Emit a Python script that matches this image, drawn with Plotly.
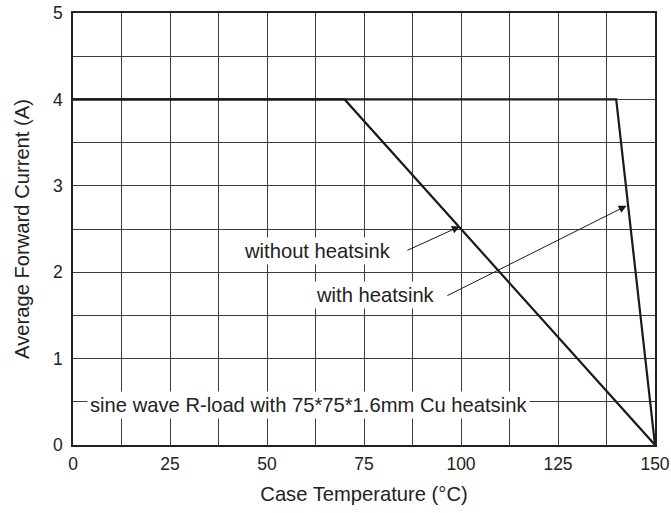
import plotly.graph_objects as go

# Data
temp_without = [0, 70, 150]
curr_without = [4, 4, 0]
temp_with = [0, 140, 150]
curr_with = [4, 4, 0]

x_ticks = [0, 25, 50, 75, 100, 125, 150]
y_ticks = [0, 1, 2, 3, 4, 5]

FONT = "Liberation Sans, Arial, Helvetica, sans-serif"
GRID = "#3c3c3c"
INK = "#1a1a1a"
TXT = "#222"
ANN = 20.2

fig = go.Figure()
fig.add_trace(go.Scatter(x=temp_without, y=curr_without, mode="lines",
                         line=dict(color=INK, width=2.2), name="without heatsink",
                         showlegend=False))
fig.add_trace(go.Scatter(x=temp_with, y=curr_with, mode="lines",
                         line=dict(color=INK, width=2.2), name="with heatsink",
                         showlegend=False))

annotations = [
    # text labels
    dict(x=62.9, y=2.25, text="without heatsink", showarrow=False,
         bgcolor="white", borderpad=2, font=dict(size=ANN, color=TXT)),
    dict(x=78.0, y=1.74, text="with heatsink", showarrow=False,
         bgcolor="white", borderpad=2, font=dict(size=ANN, color=TXT)),
    dict(x=60.7, y=0.46, text="sine wave R-load with 75*75*1.6mm Cu heatsink",
         showarrow=False, bgcolor="white", borderpad=2,
         font=dict(size=ANN, color=TXT)),
    # arrows
    dict(x=99.7, y=2.53, ax=85.8, ay=2.245, axref="x", ayref="y", text="",
         showarrow=True, arrowhead=2, arrowsize=1.6, arrowwidth=1, arrowcolor=INK),
    dict(x=142.7, y=2.77, ax=96.1, ay=1.72, axref="x", ayref="y", text="",
         showarrow=True, arrowhead=2, arrowsize=1.6, arrowwidth=1, arrowcolor=INK),
]

fig.update_layout(
    width=671, height=513,
    margin=dict(l=73, r=16, t=13, b=68),
    paper_bgcolor="white", plot_bgcolor="white",
    font=dict(family=FONT, color=TXT),
    annotations=annotations,
    showlegend=False,
)

fig.update_xaxes(
    range=[0, 150], tickvals=x_ticks, ticktext=[str(v) for v in x_ticks],
    showgrid=True, gridcolor=GRID, gridwidth=1,
    minor=dict(dtick=12.5, tick0=0, showgrid=True, gridcolor=GRID, gridwidth=1),
    showline=True, linecolor="#222", linewidth=1.5, mirror=True,
    ticks="", ticklabelstandoff=2, automargin=False, ticklabeloverflow="allow",
    tickfont=dict(size=17.5, color=TXT),
    title=dict(text="Case Temperature (°C)", font=dict(size=ANN, color=TXT), standoff=14),
    zeroline=False,
)
fig.update_yaxes(
    range=[0, 5], tickvals=y_ticks, ticktext=[str(v) for v in y_ticks],
    showgrid=True, gridcolor=GRID, gridwidth=1,
    minor=dict(dtick=0.5, tick0=0, showgrid=True, gridcolor=GRID, gridwidth=1),
    showline=True, linecolor="#222", linewidth=1.5, mirror=True,
    ticks="", ticklabelstandoff=5, automargin=False, ticklabeloverflow="allow",
    tickfont=dict(size=17.5, color=TXT),
    title=dict(text="Average Forward Current (A)", font=dict(size=ANN, color=TXT), standoff=18),
    zeroline=False,
)

# remove the page's default body margin so the 671x513 figure fills the window exactly
fig.write_html(
    "out.html",
    config={"displayModeBar": False},
    post_script="document.body.style.margin='0';"
                "document.body.style.overflow='hidden';"
                "document.documentElement.style.overflow='hidden';",
)
